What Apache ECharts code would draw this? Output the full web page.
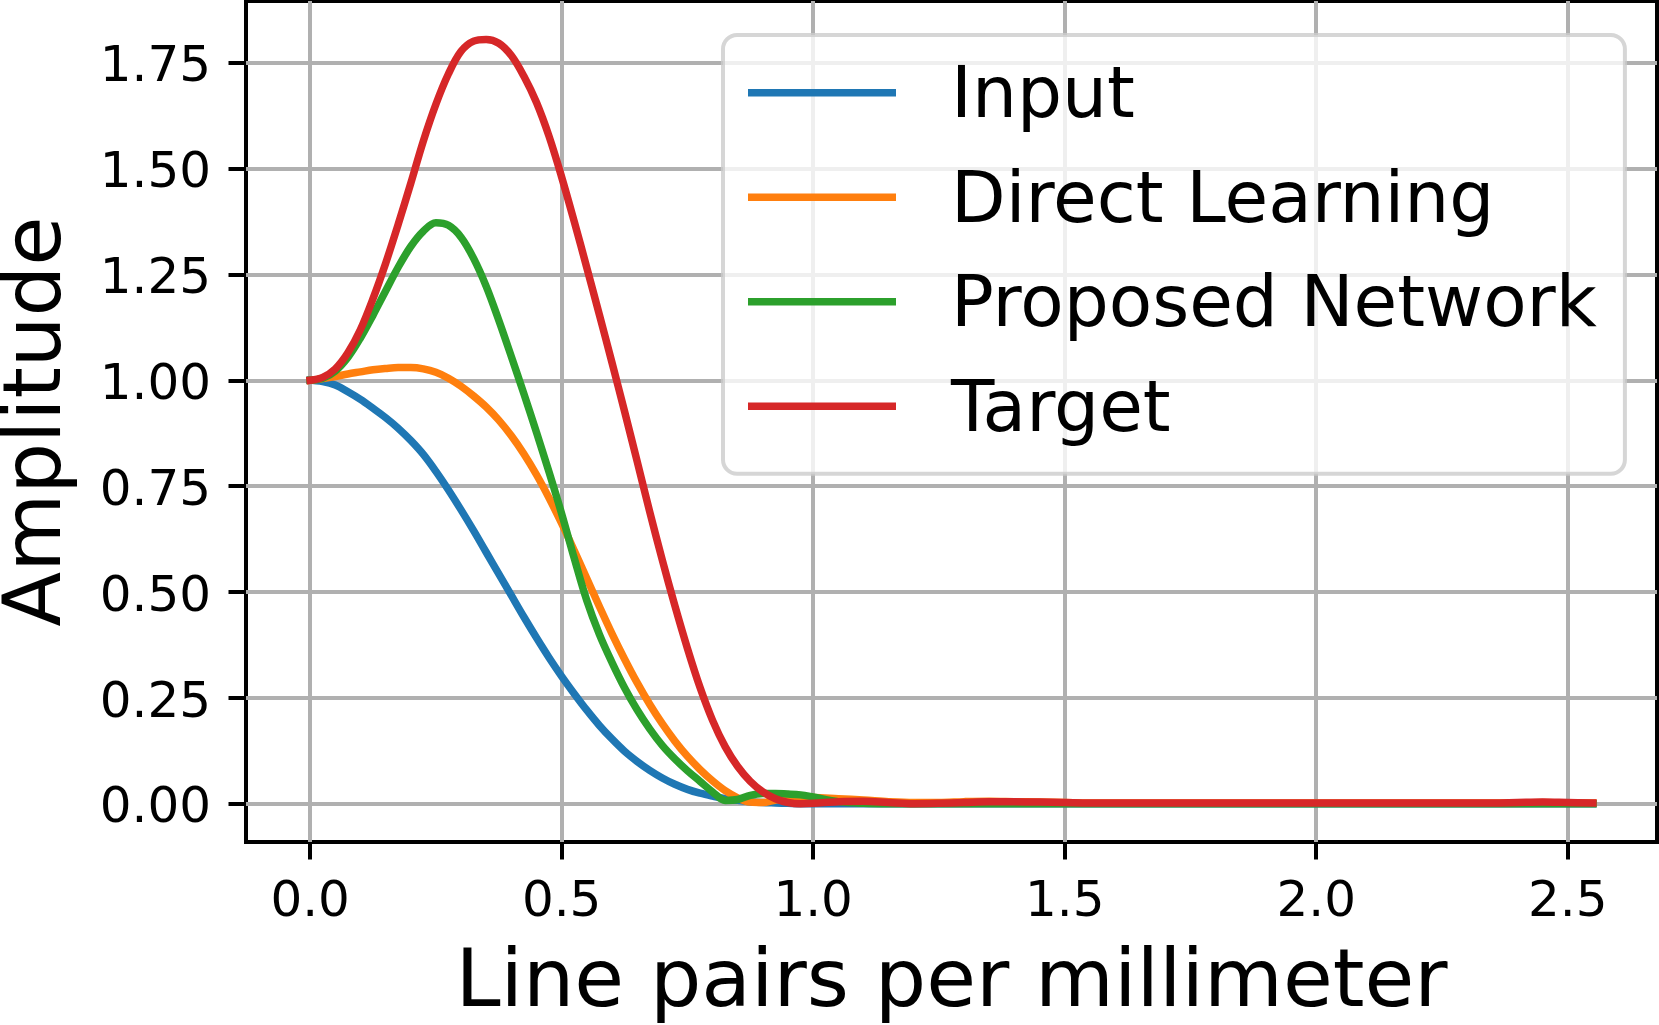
<!DOCTYPE html>
<html>
<head>
<meta charset="utf-8">
<script src="https://cdn.jsdelivr.net/npm/echarts@6/dist/echarts.min.js"></script>
<style>
html,body{margin:0;padding:0;background:#fff;}
#c{width:1659px;height:1025px;}
</style>
</head>
<body>
<div id="c"></div>
<script>
// Frequency samples (line pairs per millimeter)
const freq = [
  0, 0.025, 0.05, 0.075, 0.1, 0.125, 0.15, 0.175, 0.2, 0.225,
  0.25, 0.275, 0.3, 0.325, 0.35, 0.375, 0.4, 0.425, 0.45, 0.475,
  0.5, 0.525, 0.55, 0.575, 0.6, 0.625, 0.65, 0.675, 0.7, 0.725,
  0.75, 0.775, 0.8, 0.825, 0.85, 0.875, 0.9, 0.925, 0.95, 0.975, 1.0,
  1.05, 1.1, 1.15, 1.2, 1.25, 1.3, 1.35, 1.4, 1.45, 1.5,
  1.55, 1.6, 1.65, 1.7, 1.75, 1.8, 1.85, 1.9, 1.95, 2.0,
  2.05, 2.1, 2.15, 2.2, 2.25, 2.3, 2.35, 2.4, 2.45, 2.5, 2.55
];
const inputAmp = [
  1.000, 0.997, 0.989, 0.973, 0.955, 0.934, 0.912, 0.887, 0.858, 0.825,
  0.785, 0.741, 0.694, 0.645, 0.594, 0.543, 0.492, 0.441, 0.392, 0.345,
  0.301, 0.260, 0.221, 0.185, 0.153, 0.124, 0.100, 0.079, 0.061, 0.046,
  0.034, 0.025, 0.018, 0.012, 0.008, 0.005, 0.003, 0.002, 0.001, 0.000, 0.000,
  0, 0, 0, 0, 0, 0, 0, 0, 0, 0,
  0, 0, 0, 0, 0, 0, 0, 0, 0, 0,
  0, 0, 0, 0, 0, 0, 0, 0, 0, 0, 0
];
const directAmp = [
  1.000, 1.004, 1.009, 1.015, 1.020, 1.025, 1.028, 1.030, 1.030, 1.027,
  1.019, 1.005, 0.986, 0.963, 0.937, 0.906, 0.869, 0.826, 0.777, 0.722,
  0.662, 0.598, 0.532, 0.466, 0.402, 0.342, 0.286, 0.235, 0.189, 0.148,
  0.112, 0.081, 0.054, 0.031, 0.014, 0.004, 0.003, 0.009, 0.013, 0.015, 0.015,
  0.012, 0.009, 0.005, 0.003, 0.003, 0.005, 0.006, 0.005, 0.004, 0.003,
  0.002, 0.002, 0.002, 0.002, 0.002, 0.002, 0.002, 0.002, 0.002, 0.002,
  0.002, 0.002, 0.002, 0.002, 0.002, 0.002, 0.002, 0.002, 0.003, 0.002, 0.002
];
const proposedAmp = [
  1.000, 1.005, 1.022, 1.054, 1.100, 1.154, 1.211, 1.267, 1.316, 1.352,
  1.372, 1.366, 1.338, 1.288, 1.222, 1.142, 1.056, 0.968, 0.877, 0.783,
  0.685, 0.580, 0.480, 0.400, 0.334, 0.274, 0.222, 0.177, 0.138, 0.106,
  0.078, 0.053, 0.028, 0.008, 0.010, 0.020, 0.024, 0.024, 0.023, 0.021, 0.016,
  0.005, 0.001, 0, 0, 0, 0, 0, 0, 0, 0,
  0, 0, 0, 0, 0, 0, 0, 0, 0, 0,
  0, 0, 0, 0, 0, 0, 0, 0, 0, 0, 0
];
const targetAmp = [
  1.000, 1.007, 1.027, 1.065, 1.120, 1.193, 1.276, 1.368, 1.465, 1.565,
  1.652, 1.724, 1.777, 1.801, 1.805, 1.796, 1.767, 1.718, 1.656, 1.576,
  1.480, 1.375, 1.266, 1.155, 1.042, 0.927, 0.809, 0.690, 0.576, 0.468,
  0.367, 0.275, 0.197, 0.135, 0.088, 0.053, 0.028, 0.012, 0.003, 0.000, 0.001,
  0.005, 0.006, 0.003, 0.000, 0.001, 0.003, 0.005, 0.005, 0.004, 0.003,
  0.002, 0.002, 0.002, 0.002, 0.002, 0.002, 0.002, 0.002, 0.002, 0.002,
  0.002, 0.002, 0.002, 0.002, 0.002, 0.002, 0.002, 0.003, 0.004, 0.003, 0.002
];
const seriesNames = ['Input', 'Direct Learning', 'Proposed Network', 'Target'];
const xTicks = [0, 0.5, 1.0, 1.5, 2.0, 2.5];
const yTicks = [0, 0.25, 0.5, 0.75, 1.0, 1.25, 1.5, 1.75];

const seriesValues = [inputAmp, directAmp, proposedAmp, targetAmp];
const colors = ['#1f77b4', '#ff7f0e', '#2ca02c', '#d62728'];
const font = 'DejaVu Sans';

const chart = echarts.init(document.getElementById('c'), null, {renderer: 'canvas', width: 1659, height: 1025});
const option = {
  animation: false,
  backgroundColor: '#ffffff',
  grid: {
    left: 246, right: 2, top: 1, bottom: 183,
    show: true, borderColor: '#000', borderWidth: 4, backgroundColor: 'transparent',
    containLabel: false, outerBoundsMode: 'none'
  },
  xAxis: {
    type: 'value', min: -0.1275, max: 2.6775,
    axisLine: {show: false, onZero: false},
    axisTick: {show: true, inside: false, length: 17.5, lineStyle: {color: '#000', width: 4}, customValues: xTicks},
    axisLabel: {customValues: xTicks, formatter: v => Number(v).toFixed(1), fontFamily: font, fontSize: 50, color: '#000', margin: 36, lineHeight: 50},
    splitLine: {show: true, lineStyle: {color: '#b0b0b0', width: 4}},
    name: 'Line pairs per millimeter', nameLocation: 'middle', nameGap: 102, nameMoveOverlap: false,
    nameTextStyle: {fontFamily: font, fontSize: 81, color: '#000', lineHeight: 81}
  },
  yAxis: {
    type: 'value', min: -0.0903, max: 1.8958,
    axisLine: {show: false, onZero: false},
    axisTick: {show: true, inside: false, length: 17.5, lineStyle: {color: '#000', width: 4}, customValues: yTicks},
    axisLabel: {customValues: yTicks, formatter: v => Number(v).toFixed(2), fontFamily: font, fontSize: 50, color: '#000', margin: 35, verticalAlign: 'top', lineHeight: 11.4},
    splitLine: {show: true, lineStyle: {color: '#b0b0b0', width: 4}},
    name: 'Amplitude', nameLocation: 'middle', nameRotate: 90, nameGap: 167, nameMoveOverlap: false,
    nameTextStyle: {fontFamily: font, fontSize: 80, color: '#000', lineHeight: 80}
  },
  legend: {
    orient: 'vertical', left: 723, top: 35,
    padding: [16.4, 28, 25.7, 25], itemGap: 21.4, itemWidth: 148, itemHeight: 7.5, icon: 'rect',
    backgroundColor: 'rgba(255,255,255,0.8)', borderColor: 'rgba(204,204,204,0.8)', borderWidth: 4, borderRadius: 14,
    formatter: name => '{t|' + name + '}',
    textStyle: {
      fontFamily: font, fontSize: 71, color: '#000', lineHeight: 70, padding: [12.6, 0, 0, 50],
      rich: {t: {fontFamily: font, fontSize: 71, color: '#000', lineHeight: 70}}
    },
    data: seriesNames, selectedMode: false
  },
  series: seriesNames.map((n, i) => ({
    name: n, type: 'line',
    data: freq.map((x, j) => [x, seriesValues[i][j]]),
    showSymbol: false, symbol: 'none', smooth: 0.35,
    color: colors[i],
    lineStyle: {width: 7.5, color: colors[i], cap: 'square', join: 'round'},
    emphasis: {disabled: true}
  }))
};
chart.setOption(option);
</script>
</body>
</html>
